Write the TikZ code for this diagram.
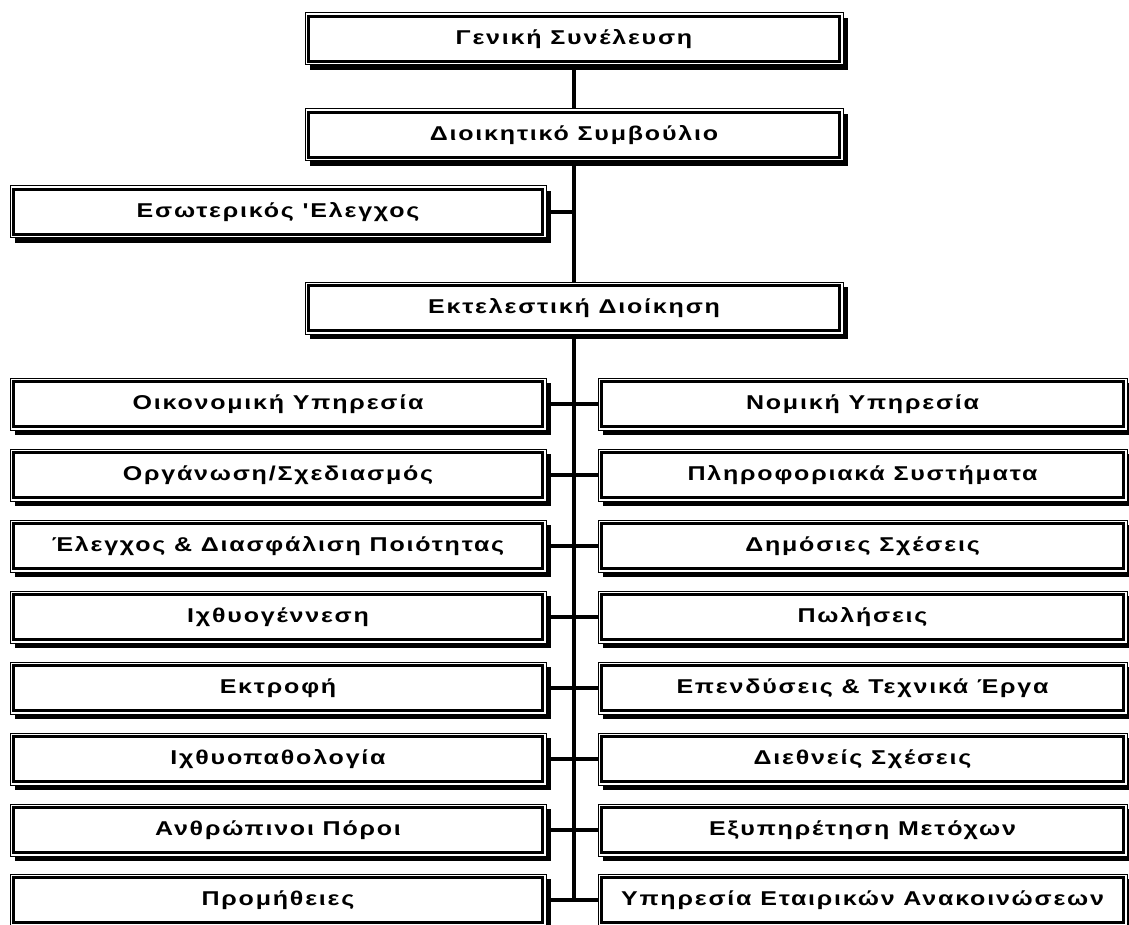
\documentclass[tikz,border=0pt]{standalone}
\usepackage{fontspec}
\newfontfamily\orgfont{Liberation Sans}[LetterSpace=9, FakeStretch=1.25]
\usetikzlibrary{shadows}
\tikzset{
  orgbox/.style={draw, line width=1pt, fill=white, minimum height=52pt, inner sep=0pt,
    font=\orgfont\bfseries\fontsize{20}{24}\selectfont,
    drop shadow={shadow xshift=5pt, shadow yshift=-5pt, opacity=1, fill=black},
    path picture={\draw[line width=3pt] ([shift={(3.5pt,-3.5pt)}]path picture bounding box.north west) rectangle ([shift={(-3.5pt,3.5pt)}]path picture bounding box.south east);}},
  topbox/.style={orgbox, minimum width=538pt},
  leftbox/.style={orgbox, minimum width=536pt},
  rightbox/.style={orgbox, minimum width=529pt},
  link/.style={line width=3.5pt}
}
\begin{document}
\begin{tikzpicture}[x=1pt, y=-1pt]
\useasboundingbox (0,0) rectangle (1129,925);
\node[topbox] (gs) at (574,39) {Γενική Συνέλευση};
\node[topbox] (ds) at (574,135) {Διοικητικό Συμβούλιο};
\node[leftbox] (ie) at (278,212) {Εσωτερικός 'Ελεγχος};
\node[topbox] (ed) at (574,308) {Εκτελεστική Διοίκηση};
\node[leftbox] (l1) at (278,404) {Οικονομική Υπηρεσία};
\node[leftbox] (l2) at (278,475) {Οργάνωση/Σχεδιασμός};
\node[leftbox] (l3) at (278,546) {Έλεγχος \& Διασφάλιση Ποιότητας};
\node[leftbox] (l4) at (278,617) {Ιχθυογέννεση};
\node[leftbox] (l5) at (278,688) {Εκτροφή};
\node[leftbox] (l6) at (278,759) {Ιχθυοπαθολογία};
\node[leftbox] (l7) at (278,830) {Ανθρώπινοι Πόροι};
\node[leftbox] (l8) at (278,900) {Προμήθειες};
\node[rightbox] (r1) at (862.5,404) {Νομική Υπηρεσία};
\node[rightbox] (r2) at (862.5,475) {Πληροφοριακά Συστήματα};
\node[rightbox] (r3) at (862.5,546) {Δημόσιες Σχέσεις};
\node[rightbox] (r4) at (862.5,617) {Πωλήσεις};
\node[rightbox] (r5) at (862.5,688) {Επενδύσεις \& Τεχνικά Έργα};
\node[rightbox] (r6) at (862.5,759) {Διεθνείς Σχέσεις};
\node[rightbox] (r7) at (862.5,830) {Εξυπηρέτηση Μετόχων};
\node[rightbox] (r8) at (862.5,900) {Υπηρεσία Εταιρικών Ανακοινώσεων};
\coordinate (end) at (l8.east -| ed.south);
\draw[link] (gs.south) -- (ds.north);
\draw[link] (ds.south) -- (ed.north);
\draw[link] (ie.east) -- (ie.east -| ds.south);
\draw[link] (ed.south) -- (end);
\foreach \i in {1,...,8}
  \draw[link] (l\i.east) -- (r\i.west);
\end{tikzpicture}
\end{document}
